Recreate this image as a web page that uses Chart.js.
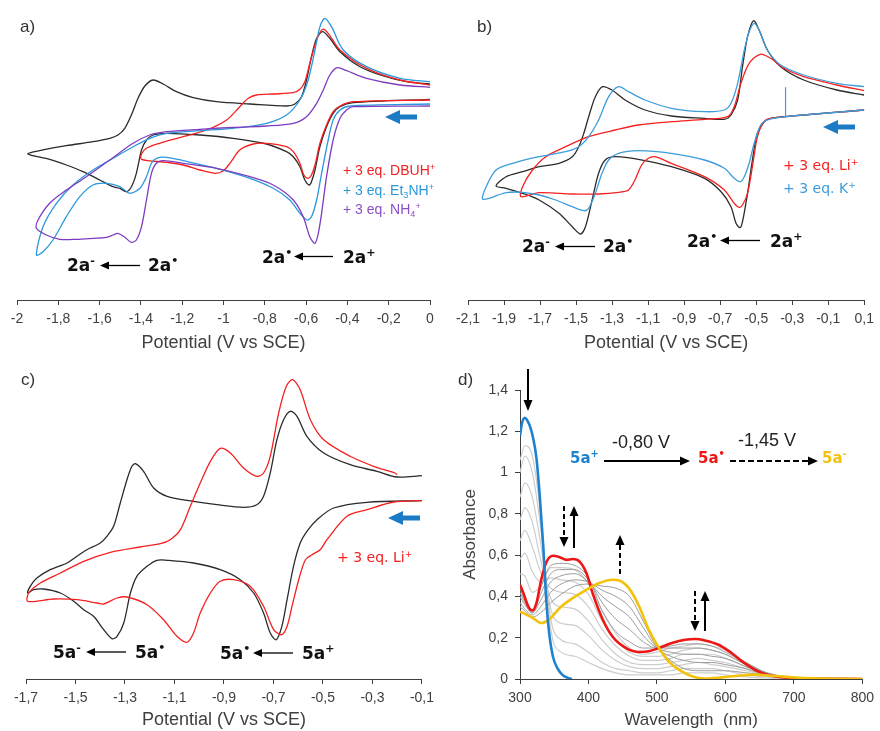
<!DOCTYPE html>
<html><head><meta charset="utf-8">
<script src="https://cdn.jsdelivr.net/npm/chart.js@4"></script>
<style>
body{margin:0;background:#fff;}
#page{position:relative;width:880px;height:731px;overflow:hidden;background:#fff;font-family:'Liberation Sans',Arial,sans-serif;}
canvas{position:absolute;}
.t{position:absolute;white-space:nowrap;line-height:1;transform:translateY(-50%);}
.t sup{font-size:0.65em;vertical-align:0.6em;line-height:0;}
.t sub{font-size:0.65em;vertical-align:-0.3em;line-height:0;}
.lab{font-size:17px;color:#333;}
.sp{font-family:'DejaVu Sans',sans-serif;font-weight:bold;font-size:17px;color:#111;}
.lg{font-size:14px;}
.lgd{font-family:'DejaVu Sans',sans-serif;font-size:14px;}
.dv{font-size:18px;color:#222;}
.ds{font-family:'DejaVu Sans',sans-serif;font-weight:bold;font-size:15px;}
</style></head>
<body><div id="page">
<canvas id="ca" width="440" height="354" style="left:0;top:0"></canvas>
<canvas id="cb" width="440" height="354" style="left:440px;top:0"></canvas>
<canvas id="cc" width="440" height="391" style="left:0;top:340px"></canvas>
<canvas id="cd" width="440" height="391" style="left:440px;top:340px"></canvas>
<svg id="arr" width="880" height="731" style="position:absolute;left:0;top:0"></svg>
</div>
<script>
// ---------- DATA: panel a (potential V, current a.u.) ----------
const aTicks = [-2,-1.8,-1.6,-1.4,-1.2,-1,-0.8,-0.6,-0.4,-0.2,0];
const aBlack = [[0.000,20.07],[-0.372,19.73],[-0.436,19.33],[-0.469,18.67],[-0.501,17.33],[-0.533,15.33],[-0.557,13.0],[-0.574,11.83],[-0.585,11.5],[-0.606,12.0],[-0.630,13.33],[-0.662,14.33],[-0.695,14.83],[-0.792,15.6],[-0.953,16.17],[-1.115,16.5],[-1.276,16.67],[-1.341,16.5],[-1.373,16.0],[-1.397,15.0],[-1.422,12.67],[-1.446,11.33],[-1.470,10.83],[-1.502,11.17],[-1.535,11.33],[-1.599,12.0],[-1.680,12.83],[-1.761,13.5],[-1.842,14.07],[-1.947,14.6],
[-1.890,14.93],[-1.761,15.43],[-1.632,15.83],[-1.551,16.17],[-1.511,16.5],[-1.478,17.17],[-1.446,18.5],[-1.414,20.17],[-1.381,21.4],[-1.341,22.0],[-1.292,21.6],[-1.228,20.83],[-1.147,20.23],[-1.034,19.83],[-0.872,19.6],[-0.695,19.4],[-0.654,19.6],[-0.622,20.33],[-0.598,22.0],[-0.574,24.33],[-0.549,26.17],[-0.520,26.83],[-0.485,26.17],[-0.436,24.83],[-0.339,23.33],[-0.226,22.4],[-0.113,21.83],[0.000,21.6]];
const aRed = [[0,20.0],[-0.372,19.83],[-0.436,19.4],[-0.469,18.83],[-0.501,17.5],[-0.533,15.67],[-0.557,13.5],[-0.574,12.5],[-0.590,12.17],[-0.611,12.5],[-0.630,13.67],[-0.662,14.83],[-0.695,15.33],[-0.792,15.67],[-0.856,15.6],[-0.921,15.0],[-0.969,13.67],[-1.002,12.9],[-1.042,12.67],[-1.115,13.0],[-1.195,13.5],[-1.276,13.77],[-1.397,14.07],
[-1.397,14.6],[-1.373,15.17],[-1.309,15.67],[-1.195,16.33],[-1.082,17.0],[-0.985,18.0],[-0.921,19.33],[-0.880,20.17],[-0.840,20.5],[-0.759,20.6],[-0.662,20.73],[-0.630,21.07],[-0.606,21.83],[-0.582,23.67],[-0.549,26.0],[-0.520,27.07],[-0.493,26.67],[-0.436,25.0],[-0.307,23.17],[-0.145,22.0],[0,21.5]];
const aBlue = [[0,19.6],[-0.388,19.4],[-0.436,19.0],[-0.469,18.0],[-0.493,16.0],[-0.525,12.67],[-0.549,10.0],[-0.574,8.33],[-0.595,8.0],[-0.630,8.67],[-0.679,10.0],[-0.759,11.17],[-0.872,12.17],[-1.034,13.17],[-1.195,13.93],[-1.276,14.27],[-1.325,14.17],[-1.349,13.67],[-1.373,12.33],[-1.405,11.17],[-1.454,10.67],[-1.502,11.33],[-1.567,11.67],[-1.632,11.5],[-1.696,10.33],[-1.761,8.33],[-1.826,6.0],[-1.874,4.83],[-1.906,4.5],
[-1.874,7.33],[-1.809,9.67],[-1.729,11.5],[-1.632,13.0],[-1.535,14.17],[-1.438,15.33],[-1.357,16.17],[-1.276,16.67],[-1.115,16.93],[-0.953,17.17],[-0.792,17.67],[-0.695,18.5],[-0.630,20.0],[-0.590,22.0],[-0.557,25.0],[-0.533,27.33],[-0.509,28.17],[-0.477,27.33],[-0.420,25.0],[-0.307,23.33],[-0.145,22.17],[0,21.83]];
const aPurple = [[0,19.4],[-0.372,19.33],[-0.404,19.0],[-0.436,18.17],[-0.469,16.0],[-0.501,12.33],[-0.525,8.67],[-0.541,6.67],[-0.557,5.67],[-0.582,6.33],[-0.614,8.33],[-0.662,10.0],[-0.759,11.5],[-0.872,12.33],[-1.034,13.17],[-1.195,13.67],[-1.292,13.93],[-1.325,13.67],[-1.349,12.67],[-1.373,10.0],[-1.397,7.33],[-1.422,6.0],[-1.446,5.77],[-1.478,6.27],[-1.511,6.67],[-1.535,6.5],[-1.567,6.27],[-1.632,6.17],[-1.712,6.07],[-1.793,6.07],[-1.858,6.5],[-1.906,7.17],
[-1.898,8.0],[-1.842,9.67],[-1.761,11.0],[-1.664,12.33],[-1.551,14.0],[-1.438,15.67],[-1.357,16.5],[-1.276,16.83],[-1.115,17.07],[-0.953,17.27],[-0.792,17.4],[-0.662,17.67],[-0.598,18.33],[-0.549,19.67],[-0.517,21.0],[-0.485,22.5],[-0.449,23.23],[-0.404,22.93],[-0.307,22.17],[-0.145,21.5],[0,21.27]];

// ---------- DATA: panel b ----------
const bTicks = [-2.1,-1.9,-1.7,-1.5,-1.3,-1.1,-0.9,-0.7,-0.5,-0.3,-0.1,0.1];
const bBlack = [[0.1,19.0],[-0.236,18.5],[-0.420,18.17],[-0.456,17.83],[-0.493,16.67],[-0.521,14.0],[-0.548,10.67],[-0.576,7.83],[-0.589,7.23],[-0.612,7.67],[-0.640,9.33],[-0.695,10.83],[-0.787,12.17],[-0.971,13.33],[-1.154,14.07],[-1.283,14.33],[-1.338,14.0],[-1.375,12.67],[-1.411,10.0],[-1.448,7.33],[-1.476,6.6],[-1.521,7.33],[-1.595,8.67],[-1.705,10.0],[-1.797,10.67],[-1.889,11.17],[-1.944,11.4],
[-1.889,12.33],[-1.797,12.83],[-1.705,13.33],[-1.595,13.67],[-1.521,14.33],[-1.485,15.33],[-1.457,16.67],[-1.430,18.33],[-1.393,20.33],[-1.353,21.33],[-1.301,21.0],[-1.228,20.0],[-1.117,19.0],[-0.971,18.4],[-0.787,18.17],[-0.677,18.07],[-0.640,18.5],[-0.603,20.0],[-0.576,23.33],[-0.548,26.33],[-0.515,27.93],[-0.484,27.0],[-0.438,25.0],[-0.364,23.33],[-0.236,22.0],[-0.052,21.0],[0.1,20.5]];
const bRed = [[0.1,19.0],[-0.420,18.17],[-0.456,17.83],[-0.493,16.33],[-0.521,13.33],[-0.548,10.67],[-0.576,9.5],[-0.594,9.27],[-0.622,9.67],[-0.677,11.0],[-0.787,12.33],[-0.971,13.67],[-1.062,14.33],[-1.099,14.17],[-1.136,13.5],[-1.173,12.0],[-1.209,11.0],[-1.264,10.77],[-1.375,10.6],[-1.521,10.6],[-1.705,10.73],[-1.806,10.33],
[-1.797,11.33],[-1.742,13.0],[-1.668,14.33],[-1.558,15.33],[-1.430,16.33],[-1.283,17.0],[-1.154,17.5],[-0.971,17.83],[-0.787,18.07],[-0.658,18.33],[-0.622,19.33],[-0.585,21.67],[-0.539,23.67],[-0.478,24.57],[-0.420,24.17],[-0.346,23.17],[-0.236,22.33],[-0.052,21.5],[0.1,20.93]];
const bBlue = [[0.1,19.0],[-0.337,18.33],[-0.438,18.0],[-0.475,17.5],[-0.511,15.67],[-0.539,13.67],[-0.566,12.33],[-0.589,11.83],[-0.622,12.17],[-0.677,13.17],[-0.787,14.0],[-0.971,14.67],[-1.154,14.93],[-1.264,14.67],[-1.319,14.0],[-1.356,12.67],[-1.393,10.67],[-1.430,9.17],[-1.457,8.93],[-1.521,9.33],[-1.613,10.0],[-1.705,10.5],[-1.797,10.77],[-1.889,10.73],[-2.017,10.07],
[-1.999,11.33],[-1.944,13.0],[-1.852,13.67],[-1.705,14.33],[-1.558,14.83],[-1.485,15.33],[-1.430,16.33],[-1.375,18.0],[-1.319,20.33],[-1.264,21.33],[-1.209,20.83],[-1.117,20.0],[-0.971,19.17],[-0.787,18.83],[-0.677,19.0],[-0.640,19.67],[-0.603,21.67],[-0.566,25.0],[-0.539,26.83],[-0.511,27.67],[-0.484,27.0],[-0.438,25.0],[-0.364,23.5],[-0.236,22.5],[-0.052,21.67],[0.1,21.33]];
const bBlueSpike = [[-0.337,21.27],[-0.337,18.33]];

// ---------- DATA: panel c ----------
const cTicks = [-1.7,-1.5,-1.3,-1.1,-0.9,-0.7,-0.5,-0.3,-0.1];
const cBlack = [[-0.1,17.83],[-0.322,17.67],[-0.457,17.1],[-0.524,15.93],[-0.565,14.77],[-0.592,13.6],[-0.619,11.27],[-0.645,7.93],[-0.666,5.27],[-0.689,3.93],[-0.713,4.6],[-0.740,6.6],[-0.780,8.6],[-0.834,9.93],[-0.915,10.93],[-1.023,11.6],[-1.130,11.87],[-1.171,11.87],[-1.211,11.27],[-1.252,10.27],[-1.278,8.6],[-1.305,5.6],[-1.332,4.27],[-1.353,4.03],[-1.386,4.93],[-1.427,6.27],[-1.467,6.93],[-1.507,7.77],[-1.561,8.6],[-1.629,9.0],[-1.669,8.93],[-1.693,8.6],
[-1.683,9.27],[-1.656,10.1],[-1.602,10.93],[-1.534,11.6],[-1.494,12.27],[-1.454,12.93],[-1.400,13.6],[-1.373,14.27],[-1.346,15.27],[-1.319,17.6],[-1.292,19.93],[-1.272,21.27],[-1.258,21.53],[-1.225,20.77],[-1.184,19.1],[-1.130,18.27],[-1.023,17.77],[-0.928,17.43],[-0.821,17.17],[-0.767,17.43],[-0.740,18.27],[-0.713,20.6],[-0.686,23.93],[-0.659,25.93],[-0.632,26.77],[-0.605,26.27],[-0.565,24.27],[-0.497,22.6],[-0.390,21.43],[-0.282,20.77],[-0.201,20.2],[-0.1,20.33]];
const cRed = [[-0.1,17.83],[-0.214,17.7],[-0.322,16.93],[-0.403,16.27],[-0.484,13.93],[-0.511,12.93],[-0.544,12.43],[-0.571,11.93],[-0.598,9.93],[-0.625,7.27],[-0.645,5.27],[-0.666,4.43],[-0.699,4.93],[-0.740,7.27],[-0.794,9.27],[-0.861,9.93],[-0.915,9.77],[-0.955,8.6],[-0.996,6.6],[-1.023,4.6],[-1.049,3.67],[-1.090,4.27],[-1.144,5.93],[-1.211,7.43],[-1.292,8.2],[-1.332,8.1],[-1.386,7.5],[-1.413,7.6],[-1.494,7.93],[-1.588,8.0],[-1.693,7.77],
[-1.689,8.6],[-1.642,9.6],[-1.561,10.6],[-1.467,11.77],[-1.359,12.67],[-1.238,13.2],[-1.157,13.53],[-1.117,13.93],[-1.076,14.93],[-1.036,17.27],[-0.996,19.6],[-0.955,21.77],[-0.915,23.07],[-0.874,22.6],[-0.821,21.1],[-0.767,20.27],[-0.740,20.6],[-0.713,22.27],[-0.679,26.6],[-0.648,29.27],[-0.623,29.93],[-0.592,28.93],[-0.551,25.93],[-0.497,23.93],[-0.390,22.27],[-0.295,21.27],[-0.208,20.6],[-0.201,20.43]];

// ---------- DATA: panel d (wavelength nm, absorbance) ----------
const dXTicks = [300,400,500,600,700,800];
const dYTicks = [0,0.2,0.4,0.6,0.8,1,1.2,1.4];
const dBlueW = [300,303,307,311,315,319,324,329,334,338,342,348,355,362,370,376];
const dBlueA = [1.18,1.24,1.265,1.25,1.22,1.17,1.07,0.88,0.64,0.40,0.24,0.11,0.05,0.02,0.005,0];
const dRedW = [300,305,312,318,324,331,339,348,358,368,377,387,397,406,421,435,455,474,488,503,522,541,556,570,590,609,628,648,667,691,715,800];
const dRedA = [0.456,0.416,0.352,0.332,0.368,0.481,0.569,0.597,0.590,0.577,0.581,0.569,0.513,0.416,0.287,0.206,0.150,0.131,0.134,0.150,0.174,0.190,0.194,0.187,0.166,0.126,0.077,0.037,0.016,0.006,0.003,0];
const dYelW = [300,319,331,343,358,377,397,416,435,445,459,474,488,503,517,532,551,570,595,619,643,667,715,800];
const dYelA = [0.327,0.295,0.271,0.290,0.344,0.392,0.432,0.465,0.481,0.477,0.440,0.352,0.239,0.150,0.085,0.045,0.013,0.002,0.008,0.016,0.021,0.016,0.005,0];
const dGreyW = [300,307,318,330,345,360,380,400,420,440,460,480,500,520,540,560,580,600,630,660,700,800];
const dL1 = [1.06,1.13,1.08,0.80,0.24,0.13,0.11,0.08,0.05,0.03,0.02,0.02,0.02,0.02,0.03,0.03,0.03,0.02,0.01,0.005,0,0];
const dL2 = [1.00,1.08,1.00,0.74,0.29,0.19,0.17,0.13,0.08,0.05,0.04,0.03,0.03,0.04,0.05,0.05,0.05,0.04,0.02,0.01,0,0];
const dL3 = [0.88,0.95,0.88,0.66,0.34,0.27,0.26,0.21,0.14,0.09,0.06,0.05,0.05,0.06,0.07,0.08,0.07,0.06,0.04,0.02,0.005,0];
const dL4 = [0.77,0.83,0.76,0.58,0.39,0.35,0.34,0.28,0.19,0.12,0.08,0.07,0.07,0.08,0.09,0.10,0.09,0.08,0.05,0.02,0.005,0];
const dL5 = [0.67,0.72,0.64,0.52,0.44,0.42,0.41,0.35,0.24,0.16,0.11,0.09,0.09,0.10,0.12,0.12,0.12,0.10,0.06,0.03,0.005,0];
const dL6 = [0.58,0.61,0.52,0.47,0.49,0.48,0.47,0.41,0.28,0.19,0.13,0.11,0.11,0.12,0.14,0.15,0.14,0.12,0.07,0.03,0.005,0];
const dL7 = [0.51,0.50,0.42,0.45,0.54,0.54,0.53,0.46,0.33,0.22,0.15,0.12,0.13,0.15,0.16,0.17,0.16,0.14,0.08,0.03,0.005,0];
const dD1 = [0.44,0.38,0.33,0.44,0.55,0.56,0.55,0.49,0.33,0.23,0.18,0.15,0.15,0.16,0.17,0.17,0.16,0.13,0.08,0.03,0.005,0];
const dD2 = [0.42,0.37,0.32,0.41,0.51,0.53,0.53,0.48,0.37,0.29,0.24,0.18,0.15,0.15,0.15,0.15,0.14,0.12,0.07,0.03,0.005,0];
const dD3 = [0.40,0.36,0.32,0.38,0.47,0.50,0.51,0.47,0.40,0.35,0.30,0.21,0.15,0.13,0.12,0.12,0.11,0.10,0.06,0.025,0.005,0];
const dD4 = [0.37,0.34,0.31,0.35,0.42,0.46,0.48,0.47,0.43,0.40,0.35,0.25,0.15,0.11,0.09,0.08,0.08,0.07,0.05,0.02,0.005,0];
const dD5 = [0.35,0.33,0.30,0.32,0.37,0.41,0.45,0.46,0.45,0.44,0.40,0.28,0.155,0.09,0.05,0.04,0.04,0.04,0.03,0.02,0.005,0];

// ---------- helpers ----------
Chart.defaults.font.family = "'Liberation Sans', Arial, sans-serif";
Chart.defaults.color = '#404040';
const fmt = v => String(Math.round(v * 10) / 10).replace('.', ',');
const AX = '#404040';

function cv(pts, color, w) {
  return {data: pts.map(p => ({x: p[0], y: p[1]})), showLine: true, borderColor: color, backgroundColor: color,
          borderWidth: w || 1.3, pointRadius: 0, pointHoverRadius: 0, fill: false, tension: 0.3};
}
function spec(ws, as, color, w, order) {
  return {data: ws.map((x, i) => ({x: x, y: as[i]})), showLine: true, borderColor: color, backgroundColor: color,
          borderWidth: w, pointRadius: 0, pointHoverRadius: 0, fill: false, cubicInterpolationMode: 'monotone', order: order};
}
function xAxis(min, max, ticks, title, h, tsize) {
  return {type: 'linear', position: 'bottom', min: min, max: max,
    afterBuildTicks: s => { s.ticks = ticks.map(v => ({value: v})); },
    afterFit: s => { s.height = h; },
    grid: {drawOnChartArea: false, drawTicks: true, tickLength: 5, color: AX, lineWidth: 1},
    border: {display: true, color: AX, width: 1},
    ticks: {autoSkip: false, maxRotation: 0, padding: 6, color: AX, font: {size: 14}, callback: v => fmt(v)},
    title: {display: true, text: title, color: AX, font: {size: tsize}, padding: {top: 0, bottom: 0}}};
}
function cvChart(id, sets, xmin, xmax, ticks, padL, padR, h, ymax) {
  new Chart(document.getElementById(id), {
    type: 'scatter', data: {datasets: sets},
    options: {responsive: false, animation: false, events: [],
      plugins: {legend: {display: false}, tooltip: {enabled: false}},
      layout: {padding: {left: padL, right: padR, top: 0, bottom: 0}},
      scales: {x: xAxis(xmin, xmax, ticks, 'Potential (V vs SCE)', h, 18), y: {display: false, min: 0, max: ymax}}}
  });
}

const BLK = '#2b2b2b', RED = '#f52020';
cvChart('ca', [cv(aPurple, '#7d3cc0'), cv(aBlue, '#2c98dc'), cv(aRed, RED), cv(aBlack, BLK)], -2, 0, aTicks, 17, 10, 54, 30);
cvChart('cb', [cv(bBlueSpike, '#3d9cdb', 1.2), cv(bBlue, '#3d9cdb'), cv(bRed, RED), cv(bBlack, BLK)], -2.1, 0.1, bTicks, 28, 12, 54, 30);
cvChart('cc', [cv(cRed, RED), cv(cBlack, BLK)], -1.7, -0.1, cTicks, 26, 18, 52, 33.9);

const LG = '#cdcdcd', DG = '#9c9c9c';
new Chart(document.getElementById('cd'), {
  type: 'scatter',
  data: {datasets: [
    spec(dBlueW, dBlueA, '#1f82cf', 2.6, 0),
    spec(dYelW, dYelA, '#f4c20d', 2.6, 1),
    spec(dRedW, dRedA, '#ee1515', 2.6, 1),
    spec(dGreyW, dD1, DG, 1, 3), spec(dGreyW, dD2, DG, 1, 3), spec(dGreyW, dD3, DG, 1, 3),
    spec(dGreyW, dD4, DG, 1, 3), spec(dGreyW, dD5, DG, 1, 3),
    spec(dGreyW, dL1, LG, 1.2, 4), spec(dGreyW, dL2, LG, 1.2, 4), spec(dGreyW, dL3, LG, 1.2, 4),
    spec(dGreyW, dL4, LG, 1.2, 4), spec(dGreyW, dL5, LG, 1.2, 4), spec(dGreyW, dL6, LG, 1.2, 4),
    spec(dGreyW, dL7, LG, 1.2, 4)
  ]},
  options: {responsive: false, animation: false, events: [],
    plugins: {legend: {display: false}, tooltip: {enabled: false}},
    layout: {padding: {left: 18, right: 15, top: 50, bottom: 0}},
    scales: {
      x: xAxis(300, 800, dXTicks, 'Wavelength  (nm)', 52, 17),
      y: {type: 'linear', position: 'left', min: 0, max: 1.4,
        afterBuildTicks: s => { s.ticks = dYTicks.map(v => ({value: v})); },
        afterFit: s => { s.width = 62; },
        grid: {drawOnChartArea: false, drawTicks: true, tickLength: 5, color: AX},
        border: {display: true, color: AX, width: 1},
        ticks: {autoSkip: false, padding: 7, color: AX, font: {size: 14}, callback: v => fmt(v)},
        title: {display: true, text: 'Absorbance', color: AX, font: {size: 17}, padding: {top: 2, bottom: 0}}}
    }}
});

// ---------- annotations ----------
const page = document.getElementById('page');
const notes = [
  ['a)', 20, 26, 'lab'], ['b)', 477, 26, 'lab'], ['c)', 21, 379, 'lab'], ['d)', 458, 379, 'lab'],
  ['2a<sup>-</sup>', 67, 265, 'sp'], ['2a<sup>•</sup>', 148, 265, 'sp'], ['2a<sup>•</sup>', 262, 257, 'sp'], ['2a<sup>+</sup>', 343, 257, 'sp'],
  ['2a<sup>-</sup>', 522, 246, 'sp'], ['2a<sup>•</sup>', 603, 246, 'sp'], ['2a<sup>•</sup>', 687, 241, 'sp'], ['2a<sup>+</sup>', 770, 241, 'sp'],
  ['5a<sup>-</sup>', 53, 652, 'sp'], ['5a<sup>•</sup>', 135, 652, 'sp'], ['5a<sup>•</sup>', 220, 653, 'sp'], ['5a<sup>+</sup>', 302, 653, 'sp'],
  ['+ 3 eq. DBUH<sup>+</sup>', 343, 170, 'lg', '#f52020'],
  ['+ 3 eq. Et<sub>3</sub>NH<sup>+</sup>', 343, 190, 'lg', '#2c98dc'],
  ['+ 3 eq. NH<sub>4</sub><sup>+</sup>', 343, 209, 'lg', '#8a4fc8'],
  ['+ 3 eq. Li<sup>+</sup>', 783, 165, 'lgd', '#f52020'],
  ['+ 3 eq. K<sup>+</sup>', 783, 188, 'lgd', '#3d9cdb'],
  ['+ 3 eq. Li<sup>+</sup>', 337, 557, 'lgd', '#f52020'],
  ['5a<sup>+</sup>', 570, 458, 'ds', '#1f82cf'],
  ['-0,80 V', 612, 442, 'dv'],
  ['5a<sup>•</sup>', 698, 458, 'ds', '#ee1515'],
  ['-1,45 V', 738, 440, 'dv'],
  ['5a<sup>-</sup>', 822, 458, 'ds', '#f4c20d']
];
notes.forEach(n => {
  const d = document.createElement('div');
  d.className = 't ' + n[3];
  d.innerHTML = n[0];
  d.style.left = n[1] + 'px';
  d.style.top = n[2] + 'px';
  if (n[4]) d.style.color = n[4];
  page.appendChild(d);
});

const svg = document.getElementById('arr');
const NS = 'http://www.w3.org/2000/svg';
function arrow(x1, y1, x2, y2, o) {
  const w = o.w || 1.3, hl = o.hl || 9, hw = o.hw || 4, col = o.c || '#000';
  const dx = x2 - x1, dy = y2 - y1, L = Math.hypot(dx, dy), ux = dx / L, uy = dy / L;
  const bx = x2 - ux * hl, by = y2 - uy * hl;
  const ln = document.createElementNS(NS, 'line');
  ln.setAttribute('x1', x1); ln.setAttribute('y1', y1); ln.setAttribute('x2', bx + ux); ln.setAttribute('y2', by + uy);
  ln.setAttribute('stroke', col); ln.setAttribute('stroke-width', w);
  if (o.dash) ln.setAttribute('stroke-dasharray', o.dash);
  svg.appendChild(ln);
  const pg = document.createElementNS(NS, 'polygon');
  pg.setAttribute('points', [x2, y2, bx - uy * hw, by + ux * hw, bx + uy * hw, by - ux * hw].join(' '));
  pg.setAttribute('fill', col);
  svg.appendChild(pg);
}
const arrows = [
  [140, 265.5, 100, 265.5, {}], [333, 256.5, 294, 256.5, {}],
  [595, 246.5, 555, 246.5, {}], [760, 240.5, 720, 240.5, {}],
  [126, 652, 86, 652, {}], [293, 653, 253, 653, {}],
  [417, 117, 385, 117, {w: 5, hl: 15, hw: 7, c: '#1b7bc4'}],
  [855, 127, 823, 127, {w: 5, hl: 15, hw: 7, c: '#1b7bc4'}],
  [420, 518, 388, 518, {w: 5, hl: 15, hw: 7, c: '#1b7bc4'}],
  [528, 369, 528, 411, {w: 2, hl: 11, hw: 4.5}],
  [564, 506, 564, 547, {w: 2, hl: 10, hw: 4.5, dash: '5 3'}],
  [574, 548, 574, 506, {w: 2, hl: 10, hw: 4.5}],
  [620, 574, 620, 535, {w: 2, hl: 10, hw: 4.5, dash: '5 3'}],
  [695, 591, 695, 631, {w: 2, hl: 10, hw: 4.5, dash: '5 3'}],
  [705, 631, 705, 591, {w: 2, hl: 10, hw: 4.5}],
  [604, 461, 690, 461, {w: 2, hl: 10, hw: 4.5}],
  [730, 461, 818, 461, {w: 2, hl: 10, hw: 4.5, dash: '6 3'}]
];
arrows.forEach(a => arrow(a[0], a[1], a[2], a[3], a[4]));
</script>
</body></html>
